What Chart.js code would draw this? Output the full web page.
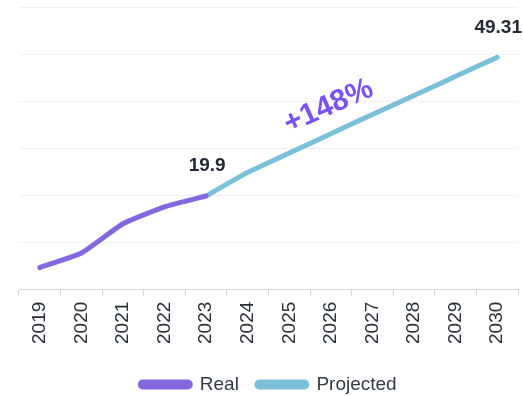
<!DOCTYPE html>
<html>
<head>
<meta charset="utf-8">
<script src="https://cdn.jsdelivr.net/npm/chart.js@4.4.1/dist/chart.umd.min.js"></script>
<style>
  html, body { margin: 0; padding: 0; background: #ffffff; }
  #wrap { width: 523px; height: 396px; position: relative; }
</style>
</head>
<body>
<div id="wrap"><canvas id="c"></canvas></div>
<script>
const years = ['2019','2020','2021','2022','2023','2024','2025','2026','2027','2028','2029','2030'];
const realValues = [4.7, 7.8, 14.0, 17.6, 19.9, null, null, null, null, null, null, null];
const projectedValues = [null, null, null, null, 19.9, 24.9, 29.0, 33.1, 37.2, 41.2, 45.3, 49.31];
const seriesNames = ['Real', 'Projected'];
const growthLabel = '+148%';
const labeledPoints = [
  { dataset: 1, index: 4, text: '19.9' },
  { dataset: 1, index: 11, text: '49.31' }
];
const yTicks = [0, 10, 20, 30, 40, 50, 60];

const PURPLE = '#8467df';
const CYAN = '#7bbfd8';
const FONT = '"Liberation Sans", Arial, sans-serif';

const labelPlugin = {
  id: 'valueLabels',
  afterDatasetsDraw(chart) {
    const ctx = chart.ctx;
    ctx.save();
    ctx.fillStyle = '#232a35';
    ctx.font = 'bold 19px ' + FONT;
    ctx.textAlign = 'center';
    ctx.textBaseline = 'middle';
    labeledPoints.forEach(p => {
      const el = chart.getDatasetMeta(p.dataset).data[p.index];
      ctx.fillText(p.text, el.x + 1, el.y - 30);
    });
    // growth annotation along projected line
    const xs = chart.scales.x, ys = chart.scales.y;
    const gx = xs.getPixelForValue(6.95);
    const gy = ys.getPixelForValue(38.9);
    ctx.translate(gx, gy);
    ctx.rotate(-24 * Math.PI / 180);
    ctx.fillStyle = '#7a52f4';
    ctx.font = 'bold 30px ' + FONT;
    ctx.fillText(growthLabel, 0, 0);
    ctx.restore();
  }
};

new Chart(document.getElementById('c'), {
  type: 'line',
  data: {
    labels: years,
    datasets: [
      {
        label: seriesNames[0],
        data: realValues,
        borderColor: PURPLE,
        backgroundColor: PURPLE,
        borderWidth: 5,
        borderCapStyle: 'round',
        borderJoinStyle: 'round',
        tension: 0.15,
        pointRadius: 0,
        pointHoverRadius: 0,
        spanGaps: false
      },
      {
        label: seriesNames[1],
        data: projectedValues,
        borderColor: CYAN,
        backgroundColor: CYAN,
        borderWidth: 5,
        borderCapStyle: 'round',
        borderJoinStyle: 'round',
        tension: 0.15,
        pointRadius: 0,
        pointHoverRadius: 0,
        spanGaps: false
      }
    ]
  },
  options: {
    responsive: true,
    maintainAspectRatio: false,
    animation: false,
    devicePixelRatio: 1,
    layout: { padding: { left: 19, right: 5, top: 7, bottom: -8 } },
    plugins: {
      tooltip: { enabled: false },
      legend: {
        position: 'bottom',
        labels: {
          boxWidth: 50,
          boxHeight: 5,
          useBorderRadius: true,
          borderRadius: 2.5,
          padding: 18,
          color: '#333a44',
          font: { family: FONT, size: 19 }
        }
      }
    },
    scales: {
      x: {
        offset: true,
        afterFit(axis) {
          axis.paddingRight = 5;
          axis.paddingLeft = 0;
          axis.height += 7;
        },
        grid: {
          offset: true,
          drawOnChartArea: false,
          drawTicks: true,
          tickLength: 6,
          color: '#cdd8e4'
        },
        border: { display: true, color: '#cdd8e4', width: 1 },
        ticks: {
          minRotation: 90,
          maxRotation: 90,
          padding: 6,
          color: '#2a303a',
          font: { family: FONT, size: 19 }
        }
      },
      y: {
        min: yTicks[0],
        max: yTicks[yTicks.length - 1],
        afterBuildTicks(axis) { axis.ticks = yTicks.map(v => ({ value: v })); },
        ticks: { display: false },
        grid: { color: '#eef0f4', drawTicks: false, lineWidth: 1 },
        border: { display: false }
      }
    }
  },
  plugins: [labelPlugin]
});
</script>
</body>
</html>
